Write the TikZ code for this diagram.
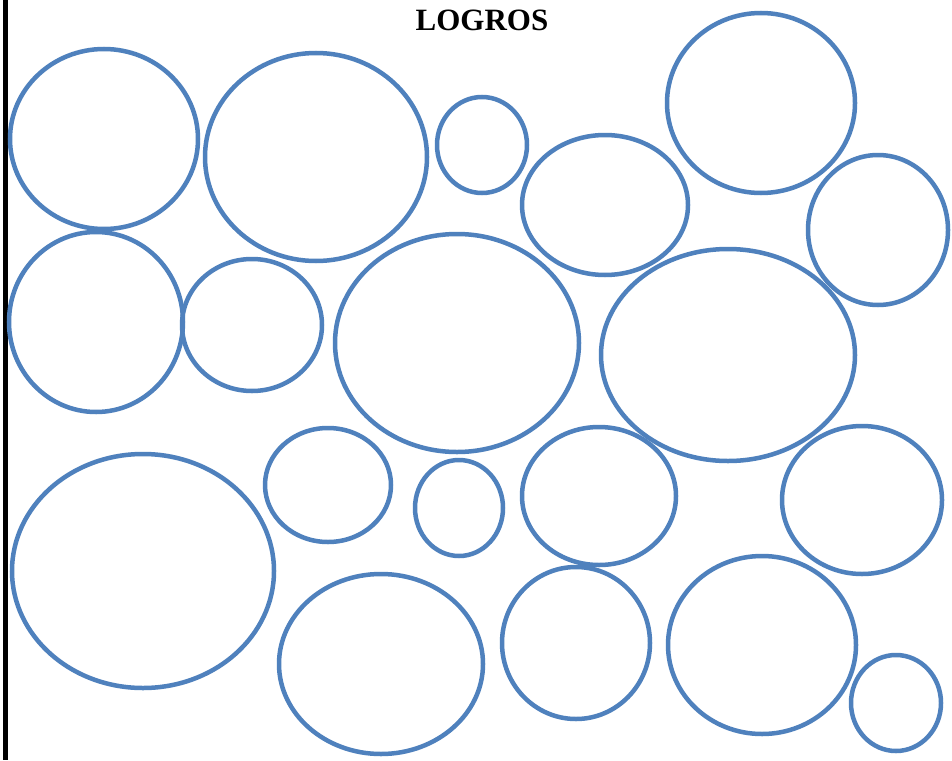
\documentclass[tikz,border=0pt]{standalone}
\usepackage{fontspec}
\setmainfont{Liberation Serif}
\definecolor{bubble}{HTML}{4F81BD}
\begin{document}
\begin{tikzpicture}[x=1pt,y=-1pt,
  bub/.style={draw=bubble,line width=4.5pt}]
\useasboundingbox (0,0) rectangle (952,760);
\fill[white] (0,0) rectangle (952,760);
\fill[black] (3,0) rectangle (8,760);
\node[font=\bfseries\fontsize{31}{34}\selectfont,inner sep=0pt] (title) at (482,20) {LOGROS};
\foreach \cx/\cy/\rx/\ry in {
  104/139/94/90, 316/157/111/104, 482/145/45/48, 761/103/94/90,
  605/205/83/70, 878/230/70/75, 96/322/87/90, 252/325/70/66,
  457/343/122/109, 728/355/127/106, 143/571/131/117, 328/485/63/57,
  459/508/44/48, 599/496/77/69, 862/500/80/74, 381/664/102/90,
  576/643/74/76, 762/645/94/89, 896/703/45/48}
  \draw[bub] (\cx,\cy) ellipse [x radius=\rx, y radius=\ry];
\end{tikzpicture}
\end{document}
